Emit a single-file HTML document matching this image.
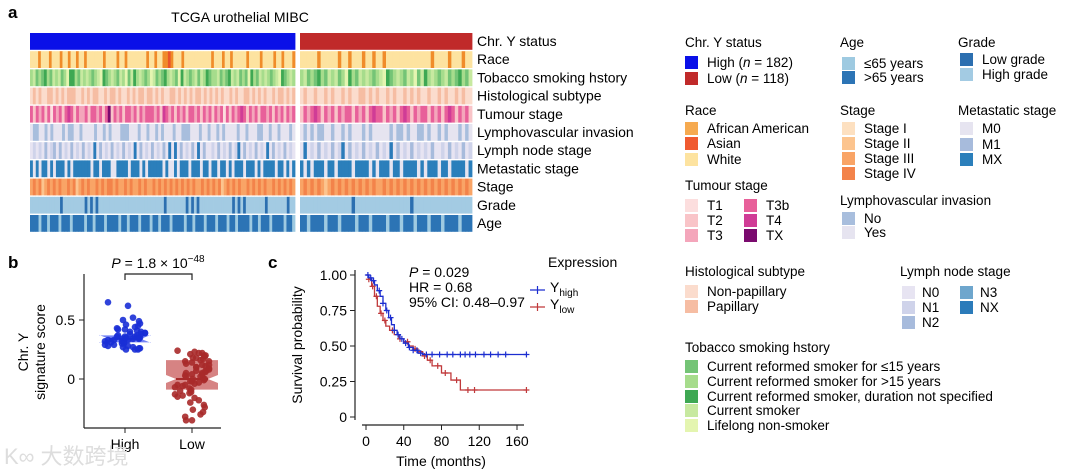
<!DOCTYPE html>
<html><head><meta charset="utf-8"><style>
html,body{margin:0;padding:0;background:#fff;}
svg{display:block;font-family:"Liberation Sans","Noto Sans CJK SC",sans-serif;}
</style></head><body>
<svg id="fig" width="1080" height="470" viewBox="0 0 1080 470" xmlns="http://www.w3.org/2000/svg">
<text x="8" y="18" font-size="17" font-weight="bold">a</text>
<text x="240" y="22" font-size="14" text-anchor="middle">TCGA urothelial MIBC</text>
<g id="heat"></g>
<g id="heatLabels" font-size="14"></g>
<g id="legend" font-size="13.5"></g>
<text x="8" y="268" font-size="17" font-weight="bold">b</text>
<g id="pb"></g>
<text x="268" y="268" font-size="17" font-weight="bold">c</text>
<g id="pc"></g>
<text x="4" y="464" font-size="22" fill="#dddddd">K∞ 大数跨境</text>
</svg>
<script>
const NS="http://www.w3.org/2000/svg";
function mk(p,t,a){const e=document.createElementNS(NS,t);for(const k in a)e.setAttribute(k,a[k]);p.appendChild(e);return e;}

// ---------- heatmap data ----------
const rowNames=["Chr. Y status","Race","Tobacco smoking hstory","Histological subtype","Tumour stage","Lymphovascular invasion","Lymph node stage","Metastatic stage","Stage","Grade","Age"];
const rowsHigh=[
"h",
"wwwawwwawwwawwawwawwawwwwwwawwwwawwawwwwwwwawwawwaasawwwawwwwwwwwwwawwwawwawwwwwawwwwawwwwawwawwwa",
"24121321424125332142421245312421425143242125412132421534212414231224121342412153214242124531242",
"npnpnnppnpnpnpppnnpnpnppnnpnppnpnnpnpnppnppnpnpnnppnpnpnpnppnpnpnpnpnnpnpnnppnpnpnpnnpnppnpnp",
"b2b3b2b1b3b2b4b2b33b2bb3b2bx2b3b2bb3b2b3bbb3b24b3b2b3b2bb3b2b3b2b3b1b2b3b4b2b3b2bb3b2b3b2b3b",
"ynnyynynyyynynnyynyyyynyynynyyynnnyyynyynyynynyyynyynnnyyynyynyynynyyyynyynyyynnyynyynyyyny",
"0101020120201020102010x0201020102010x02010201020x0x0201020x0200102010201x020102010x020102010",
"x0x0xx0x0xxx0x0xxxxxx0xx0xxx00xxxx0xxx0x0xxxxx0x00x0xxx0xxx0xx0xx0xx0x0xxx0xxx0x0xxxx0xx0x0x",
"343423434343343423434334343443433434334343343434343434343433434343423434343343434343343434343",
"hhhhhhhhhhhlhhhhhhhhlhlhlhhhhhhhhhhhhhhhhhhhhhhhhlhhhhhhhlhlhlhhhhhhhhhhhhlhlhlhhhhhhhlhhhhhhhlhh",
"oooyooyoooyoooyooooyooyoooyooooyooyoooyoooyooyoooyooooyooyoooyoooyoooyooyooooyooyoooyooooyooy"];
const rowsLow=[
"l",
"wwwwwawwwwwawwawwwawwawwawwwwwwwwwwwwwawwwwawwwaww",
"24121321424125321424212453124214251432421241213214",
"npnnpnnpnpnnpnpnnppnpnpnnpnpnnpnpnpnnpnnpnpnnpnpnn",
"2b3b4b2b3b2b3bb2b3b2b4bb2b3b2b4b2b3bb2b3b2b4b2b3b2",
"ynynynnyynyynynyyynynyyyyynynnynyynnynyynynyyynyny",
"0x0102010201x0201020102010x02010201010200102010201",
"x0x0xxx0xx0xxxx0xxxx0x0xxx0xx0xxxx0x0xxx0xx0xxxx0x",
"34343432343434343434343343434343434343434343434343",
"hhhhhhhhhhhhhhhlhhhhhhhhhhhhhhhhlhhhhhhhhhhhhhhhhh",
"ooyooooyoooyooooyoooyooooyoooyoooyoooyoooyooooyooo"];
const palettes=[
{h:"#0a10e8",l:"#c02a2a"},
{w:"#fde3a0",a:"#f08c2a",s:"#e9532a"},
{"1":"#74c476","2":"#a6dc8c","3":"#3ea853","4":"#c7e9a0","5":"#e4f5b0"},
{n:"#fbdccd",p:"#f6bda3"},
{"1":"#fcdede","2":"#f9c4c8","3":"#f4a6bb","b":"#e8609a","4":"#d03c96","x":"#7a0a6e"},
{n:"#a8bedd",y:"#e6e4f0"},
{"0":"#e7e4f2","1":"#cfd3ea","2":"#a7bbdc","3":"#6ea6cd","x":"#2b7bba"},
{"0":"#e6e4f0","1":"#a7bbdc","x":"#2b7fbb"},
{"1":"#fde0c0","2":"#fcc48e","3":"#f9a466","4":"#f3834a"},
{l:"#2c6fb0",h:"#a3cbe3"},
{y:"#9ecae1",o:"#2c74b5"}];
const heat=document.getElementById('heat');
const hx0=30,hx1=295,lx0=300,lx1=472,hy0=33,rowH=18.2;
function drawGroup(str,x0,x1,y,pal){
  const w=(x1-x0)/str.length;
  for(let i=0;i<str.length;i++){
    const r=mk(heat,'rect',{x:x0+i*w,y:y,width:w+0.4,height:rowH-1.4,fill:pal[str[i]]});
    
    
  }
}
const hl=document.getElementById('heatLabels');
rowNames.forEach((n,ri)=>{
  const y=hy0+ri*rowH;
  drawGroup(rowsHigh[ri],hx0,hx1,y,palettes[ri]);
  drawGroup(rowsLow[ri],lx0,lx1,y,palettes[ri]);
  const t=mk(hl,'text',{x:477,y:y+13});t.textContent=n;
  
  
});

// ---------- legend ----------
const lg=document.getElementById('legend');
function head(x,y,s){const t=mk(lg,'text',{x:x,y:y});t.textContent=s;
  
  }
function item(x,y,c,s,tx){const r=mk(lg,'rect',{x:x,y:y-11,width:13,height:13,fill:c});
  
  
  const t=mk(lg,'text',{x:tx||x+22,y:y});t.innerHTML=s;
  
  }
head(685,47,"Chr. Y status");
item(685,67,"#0a10e8","High (<tspan font-style='italic'>n</tspan> = 182)");
item(685,83,"#c02a2a","Low (<tspan font-style='italic'>n</tspan> = 118)");
head(840,47,"Age");item(842,68,"#9ecae1","≤65 years");item(842,82,"#2c74b5",">65 years");
head(958,47,"Grade");item(960,64,"#2c6fb0","Low grade");item(960,79,"#a3cbe3","High grade");
head(685,115,"Race");item(685,133,"#f6aa50","African American");item(685,148,"#f05a30","Asian");item(685,164,"#fde3a0","White");
head(840,115,"Stage");item(842,133,"#fde0c0","Stage I");item(842,148,"#fcc48e","Stage II");item(842,163,"#f9a466","Stage III");item(842,178,"#f3834a","Stage IV");
head(958,115,"Metastatic stage");item(960,133,"#e6e4f0","M0");item(960,149,"#a7bbdc","M1");item(960,164,"#2b7fbb","MX");
head(685,190,"Tumour stage");
item(685,210,"#fcdede","T1");item(685,225,"#f9c4c8","T2");item(685,240,"#f4a6bb","T3");
item(744,210,"#e8609a","T3b");item(744,225,"#d03c96","T4");item(744,240,"#7a0a6e","TX");
head(840,205,"Lymphovascular invasion");item(842,223,"#a8bedd","No");item(842,237,"#e6e4f0","Yes");
head(685,276,"Histological subtype");item(685,296,"#fbdccd","Non-papillary");item(685,311,"#f6bda3","Papillary");
head(900,276,"Lymph node stage");
item(902,297,"#e7e4f2","N0",922);item(902,312,"#cfd3ea","N1",922);item(902,327,"#a7bbdc","N2",922);
item(960,297,"#6ea6cd","N3",980);item(960,312,"#2b7bba","NX",980);
head(685,352,"Tobacco smoking hstory");
item(685,371,"#74c476","Current reformed smoker for ≤15 years");
item(685,386,"#a6dc8c","Current reformed smoker for &gt;15 years");
item(685,401,"#3ea853","Current reformed smoker, duration not specified");
item(685,415,"#c7e9a0","Current smoker");
item(685,430,"#e4f5b0","Lifelong non-smoker");

// ---------- panel b ----------
const highScores=[0.65,0.62,0.52,0.50,0.49,0.47,0.46,0.45,0.44,0.43,0.42,0.42,0.41,0.40,0.40,0.39,0.39,0.38,0.38,0.37,0.37,0.36,0.36,0.36,0.35,0.35,0.35,0.34,0.34,0.34,0.33,0.33,0.33,0.32,0.32,0.31,0.31,0.30,0.30,0.29,0.29,0.28,0.28,0.27,0.27,0.26,0.26,0.25,0.25,0.25];
const lowScores=[0.24,0.23,0.22,0.21,0.20,0.19,0.18,0.17,0.16,0.15,0.14,0.13,0.12,0.11,0.10,0.09,0.08,0.07,0.06,0.05,0.05,0.04,0.03,0.02,0.01,0.00,0.00,-0.01,-0.02,-0.03,-0.04,-0.05,-0.06,-0.07,-0.08,-0.09,-0.10,-0.11,-0.12,-0.13,-0.14,-0.15,-0.16,-0.18,-0.20,-0.22,-0.24,-0.26,-0.28,-0.30,-0.32,-0.35,-0.35,0.22,0.20,0.18,0.15,0.12,0.10,0.07,0.04,0.02,-0.02,-0.05];
const groupNames=["High","Low"];
const boxStats=[[0.31,0.34,0.37],[-0.09,0.0,0.16]];
const pb=document.getElementById('pb');
const by=v=>379-v*118, bx=i=>125+i*67;
mk(pb,'line',{x1:84,y1:274,x2:84,y2:428,stroke:"#222","stroke-width":1.2});
mk(pb,'line',{x1:84,y1:428,x2:221,y2:428,stroke:"#222","stroke-width":1.2});
const bTicks=[0,0.5];
bTicks.forEach(v=>{mk(pb,'line',{x1:79,y1:by(v),x2:84,y2:by(v),stroke:"#222"});
  const t=mk(pb,'text',{x:75,y:by(v)+5,"font-size":14,"text-anchor":"end"});t.textContent=v;
  });
const yt=mk(pb,'text',{transform:"translate(28,352) rotate(-90)","font-size":14,"text-anchor":"middle"});
yt.innerHTML="<tspan x='0' dy='0'>Chr. Y</tspan><tspan x='0' dy='17'>signature score</tspan>";

groupNames.forEach((g,i)=>{mk(pb,'line',{x1:bx(i),y1:428,x2:bx(i),y2:433,stroke:"#222"});
  const t=mk(pb,'text',{x:bx(i),y:449,"font-size":14,"text-anchor":"middle"});t.textContent=g;
  });
const fills=["#1a2fd6","#a82a2a"],boxFill=["rgba(70,90,240,0.75)","rgba(200,90,90,0.75)"];
function drawBox(i){const [q1,m,q3]=boxStats[i];const c=bx(i),w=26,n=10;
  const pts=[[c-w,by(q3)],[c+w,by(q3)],[c+w,by(m)-4],[c+w-n,by(m)],[c+w,by(m)+4],[c+w,by(q1)],[c-w,by(q1)],[c-w,by(m)+4],[c-w+n,by(m)],[c-w,by(m)-4]];
  const p=mk(pb,'polygon',{points:pts.map(p=>p.join(',')).join(' '),fill:boxFill[i]});
  
  mk(pb,'line',{x1:c-w+n,y1:by(m),x2:c+w-n,y2:by(m),stroke:fills[i],"stroke-width":2});}
drawBox(0);drawBox(1);
[highScores,lowScores].forEach((arr,gi)=>{arr.forEach((v,i)=>{
  const j=((i*i*13+i*7+3)%41-20)*(gi?0.85:1.0);
  const c=mk(pb,'circle',{cx:bx(gi)+j,cy:by(v),r:3.3,fill:fills[gi],opacity:0.9});
  });});
mk(pb,'path',{d:"M125 280 V274 H192 V280",fill:"none",stroke:"#222","stroke-width":1.2});
const pt=mk(pb,'text',{x:158,y:268,"font-size":14,"text-anchor":"middle"});
pt.innerHTML="<tspan font-style='italic'>P</tspan> = 1.8 × 10<tspan dy='-6' font-size='10'>−48</tspan>";


// ---------- panel c ----------
const highTimes=[0,3,6,9,12,15,18,21,24,27,30,33,36,40,45,50,55,60,170];
const highSurv=[1,0.98,0.96,0.93,0.89,0.85,0.80,0.75,0.70,0.65,0.61,0.58,0.55,0.52,0.49,0.47,0.45,0.44,0.44];
const lowTimes=[0,3,6,9,12,15,18,21,25,30,35,40,45,50,55,60,65,70,80,90,100,170];
const lowSurv=[1,0.97,0.92,0.85,0.78,0.73,0.68,0.64,0.61,0.58,0.55,0.53,0.50,0.48,0.46,0.43,0.40,0.36,0.31,0.26,0.19,0.19];
const highCens=[2,5,8,14,18,22,26,30,34,38,42,46,50,54,58,64,70,78,86,92,100,105,110,116,125,132,140,148,170];
const lowCens=[3,7,11,16,20,28,36,44,52,62,68,76,84,96,108,115,170];
const xTicks=[0,40,80,120,160],yTicks=[0,0.25,0.5,0.75,1.0];
const pc=document.getElementById('pc');
const cx=t=>366+t*(151/160), cy=s=>417-s*142;
mk(pc,'line',{x1:355,y1:270,x2:355,y2:420,stroke:"#222","stroke-width":1.2});
mk(pc,'line',{x1:362,y1:425,x2:524,y2:425,stroke:"#222","stroke-width":1.2});
yTicks.forEach(v=>{mk(pc,'line',{x1:350,y1:cy(v),x2:355,y2:cy(v),stroke:"#222"});
  const t=mk(pc,'text',{x:347,y:cy(v)+5,"font-size":14,"text-anchor":"end"});t.textContent=v===0?"0":v.toFixed(2);
  });
xTicks.forEach(v=>{mk(pc,'line',{x1:cx(v),y1:425,x2:cx(v),y2:430,stroke:"#222"});
  const t=mk(pc,'text',{x:cx(v),y:446,"font-size":14,"text-anchor":"middle"});t.textContent=v;
  });
const xl=mk(pc,'text',{x:441,y:466,"font-size":14,"text-anchor":"middle"});xl.textContent="Time (months)";

const yl=mk(pc,'text',{transform:"translate(302,345) rotate(-90)","font-size":14,"text-anchor":"middle"});yl.textContent="Survival probability";

function stepAt(T,S,t){let s=S[0];for(let i=0;i<T.length;i++)if(T[i]<=t)s=S[i];return s;}
function curve(T,S,C,col,name){let d="M"+cx(T[0])+" "+cy(S[0]);
  for(let i=1;i<T.length;i++){d+=" H"+cx(T[i])+" V"+cy(S[i]);}
  const p=mk(pc,'path',{d:d,fill:"none",stroke:col,"stroke-width":1.3});
  
  C.forEach(t=>{const x=cx(t),y=cy(stepAt(T,S,t));
    const m=mk(pc,'path',{d:`M${x-3} ${y}H${x+3}M${x} ${y-3}V${y+3}`,stroke:col,"stroke-width":1.2});
    });}
curve(lowTimes,lowSurv,lowCens,"#c0393b","km-curve-low");
curve(highTimes,highSurv,highCens,"#1c2ed0","km-curve-high");
const st=mk(pc,'text',{x:409,y:277,"font-size":14});
st.innerHTML="<tspan x='409' font-style='italic'>P</tspan> = 0.029<tspan x='409' dy='15'>HR = 0.68</tspan><tspan x='409' dy='15'>95% CI: 0.48–0.97</tspan>";

const eh=mk(pc,'text',{x:548,y:267,"font-size":14});eh.textContent="Expression";

mk(pc,'path',{d:"M530 290H545M537.5 286V294",stroke:"#1c2ed0","stroke-width":1.2});
mk(pc,'path',{d:"M530 307H545M537.5 303V311",stroke:"#c0393b","stroke-width":1.2});
const e1=mk(pc,'text',{x:550,y:292,"font-size":14});e1.innerHTML="Y<tspan dy='4' font-size='10'>high</tspan>";

const e2=mk(pc,'text',{x:550,y:309,"font-size":14});e2.innerHTML="Y<tspan dy='4' font-size='10'>low</tspan>";

</script>
</body></html>
